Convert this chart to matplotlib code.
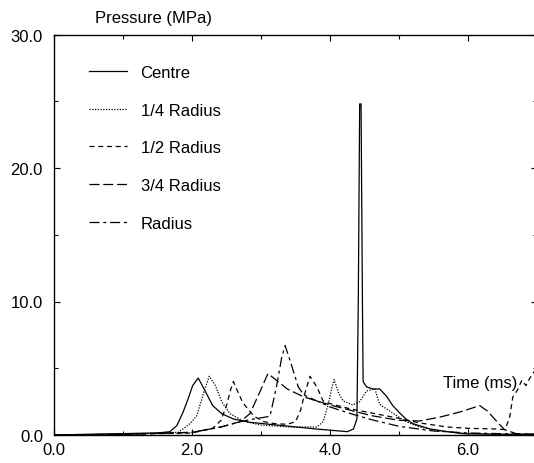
import matplotlib
matplotlib.use("Agg")
import matplotlib.pyplot as plt
import numpy as np

plt.rcParams['font.family'] = ['Liberation Sans', 'DejaVu Sans']

# values (time in ms, pressure in MPa)
t_centre = [0.0, 0.5, 1.0, 1.5, 1.68, 1.78, 1.87, 1.95, 2.01, 2.09, 2.19, 2.3, 2.43, 2.6, 2.84,
            3.32, 3.8, 4.25, 4.34, 4.39, 4.41, 4.43, 4.45, 4.47, 4.48, 4.53, 4.62, 4.72, 4.82,
            4.91, 5.0, 5.1, 5.2, 5.45, 5.7, 5.93, 6.5, 7.0]
p_centre = [0.0, 0.05, 0.1, 0.15, 0.25, 0.7, 1.7, 2.8, 3.7, 4.27, 3.3, 2.2, 1.6, 1.2, 0.95,
            0.7, 0.45, 0.25, 0.45, 1.2, 10.0, 24.8, 24.8, 10.0, 4.0, 3.6, 3.45, 3.45, 2.9,
            2.2, 1.7, 1.2, 0.85, 0.45, 0.25, 0.1, 0.05, 0.05]

t_quarter = [0.0, 0.5, 1.0, 1.5, 1.8, 1.87, 1.97, 2.07, 2.17, 2.25, 2.34, 2.43, 2.55, 2.74, 2.99,
             3.42, 3.81, 3.9, 3.97, 4.03, 4.06, 4.12, 4.19, 4.33, 4.43, 4.53, 4.65, 4.72, 4.82,
             4.95, 5.1, 5.3, 5.6, 6.0, 6.5, 7.0]
p_quarter = [0.0, 0.05, 0.1, 0.15, 0.2, 0.45, 0.85, 1.45, 3.2, 4.4, 3.7, 2.5, 1.6, 1.05, 0.75,
             0.6, 0.6, 1.0, 2.2, 3.6, 4.15, 3.2, 2.55, 2.25, 2.5, 3.3, 3.45, 2.3, 1.95,
             1.5, 1.0, 0.6, 0.3, 0.1, 0.05, 0.05]

t_half = [0.0, 1.0, 2.0, 2.3, 2.42, 2.5, 2.56, 2.6, 2.65, 2.72, 2.77, 2.9, 3.04, 3.2, 3.38,
          3.5, 3.57, 3.64, 3.71, 3.81, 3.9, 4.0, 4.3, 4.6, 5.0, 5.3, 5.7, 6.0, 6.42, 6.53,
          6.6, 6.65, 6.72, 6.78, 6.84, 6.9, 6.98, 7.0]
p_half = [0.0, 0.05, 0.15, 0.5, 1.1, 2.2, 3.4, 4.0, 3.4, 2.6, 2.2, 1.4, 1.0, 0.85, 0.8,
          1.0, 1.8, 3.2, 4.4, 3.6, 2.55, 2.35, 1.95, 1.65, 1.25, 0.9, 0.6, 0.5, 0.45, 0.4,
          1.2, 2.85, 3.4, 4.1, 3.7, 4.3, 4.9, 5.0]

t_three = [0.0, 1.0, 2.0, 2.42, 2.7, 2.84, 2.99, 3.1, 3.2, 3.38, 3.62, 4.0, 4.3, 4.6, 5.0,
           5.3, 5.6, 5.9, 6.17, 6.28, 6.42, 6.53, 6.7, 7.0]
p_three = [0.0, 0.05, 0.2, 0.6, 1.0, 1.6, 3.3, 4.6, 4.2, 3.45, 2.85, 2.25, 1.85, 1.45, 1.1,
           1.05, 1.35, 1.75, 2.2, 1.8, 1.0, 0.4, 0.1, 0.05]

t_radius = [0.0, 1.0, 2.0, 2.42, 2.7, 2.9, 3.13, 3.22, 3.3, 3.35, 3.45, 3.54, 3.62, 4.0,
            4.3, 4.6, 5.0, 5.5, 6.0, 6.5, 7.0]
p_radius = [0.0, 0.05, 0.2, 0.6, 1.0, 1.2, 1.4, 3.5, 5.8, 6.7, 5.1, 3.6, 3.0, 2.1,
            1.6, 1.15, 0.65, 0.3, 0.15, 0.1, 0.05]

labels = ['Centre', '1/4 Radius', '1/2 Radius', '3/4 Radius', 'Radius']

fig = plt.figure(figsize=(5.34, 4.64), dpi=100)
ax = fig.add_axes([54/534, 28/464, 483/534, 400.5/464])

lw = 0.9
ax.plot(t_centre, p_centre, color='black', lw=lw, label=labels[0])
ax.plot(t_quarter, p_quarter, color='black', lw=lw, dashes=(1, 1.2), label=labels[1])
ax.plot(t_half, p_half, color='black', lw=lw, dashes=(4, 3), label=labels[2])
ax.plot(t_three, p_three, color='black', lw=lw, dashes=(8, 3), label=labels[3])
ax.plot(t_radius, p_radius, color='black', lw=lw, dashes=(8, 3, 2.5, 3), label=labels[4])

ax.set_xlim(0, 7)
ax.set_ylim(0, 30)
ax.set_xticks([0, 2, 4, 6])
ax.set_xticks([1, 3, 5], minor=True)
ax.set_yticks([0, 10, 20, 30])
ax.set_yticks([5, 15, 25], minor=True)
ax.xaxis.set_major_formatter(matplotlib.ticker.FormatStrFormatter('%.1f'))
ax.yaxis.set_major_formatter(matplotlib.ticker.FormatStrFormatter('%.1f'))
ax.tick_params(which='both', direction='in', top=True, right=True, labelsize=12, width=0.8)
ax.tick_params(which='major', length=4)
ax.tick_params(which='minor', length=3)
ax.tick_params(axis='x', pad=5)
ax.tick_params(axis='y', pad=8)
for s in ax.spines.values():
    s.set_linewidth(1.0)

fig.text(95/534, 1 - 18/464, 'Pressure (MPa)', fontsize=12, va='center', ha='left')
ax.text(0.805, 0.132, 'Time (ms)', fontsize=12, va='center', ha='left', transform=ax.transAxes)

ax.legend(loc='upper left', bbox_to_anchor=(0.055, 0.945), frameon=False, fontsize=12,
          handlelength=2.3, handletextpad=0.8, labelspacing=1.36, borderpad=0)

fig.savefig('out.png', dpi=100)
